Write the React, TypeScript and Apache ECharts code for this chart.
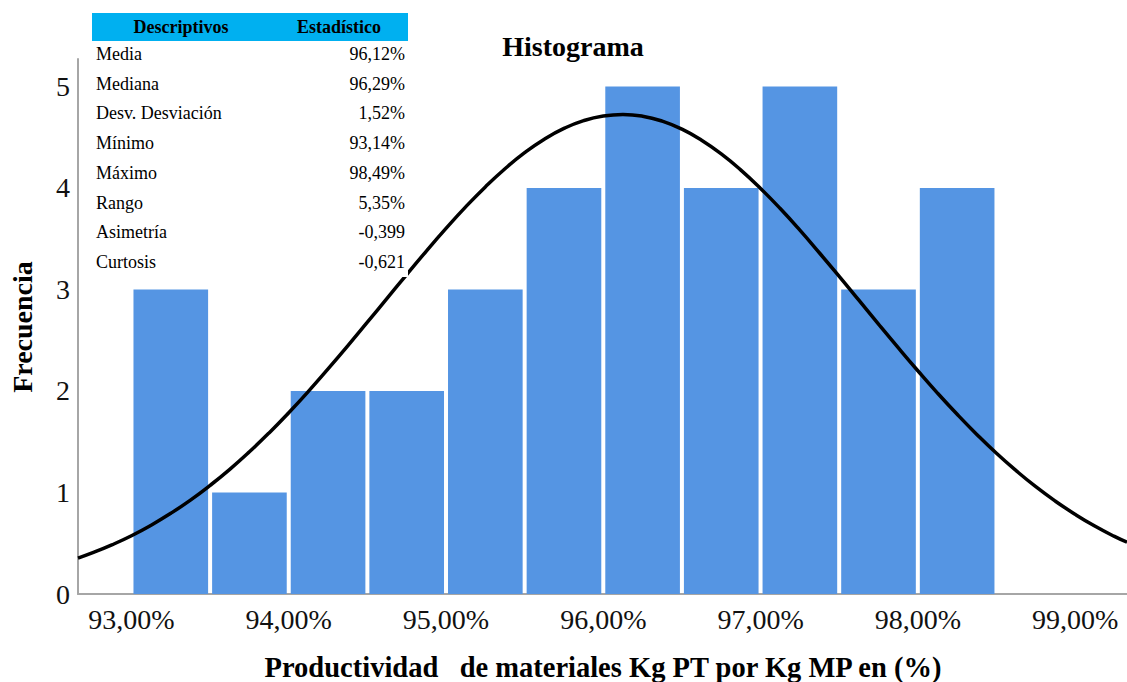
import React, { useEffect, useRef } from "react";
import * as echarts from "echarts";

// Histogram bins: [start, end] in % and frequency
const binStarts = [93.0, 93.5, 94.0, 94.5, 95.0, 95.5, 96.0, 96.5, 97.0, 97.5, 98.0];
const binEnds = [93.5, 94.0, 94.5, 95.0, 95.5, 96.0, 96.5, 97.0, 97.5, 98.0, 98.5];
const frequencies = [3, 1, 2, 2, 3, 4, 5, 4, 5, 3, 4];

// Normal curve (x in %, y in frequency units)
const curveX = [
  92.66, 92.75, 92.875, 93.0, 93.125, 93.25, 93.375, 93.5, 93.625, 93.75, 93.875,
  94.0, 94.125, 94.25, 94.375, 94.5, 94.625, 94.75, 94.875,
  95.0, 95.125, 95.25, 95.375, 95.5, 95.625, 95.75, 95.875,
  96.0, 96.125, 96.25, 96.375, 96.5, 96.625, 96.75, 96.875,
  97.0, 97.125, 97.25, 97.375, 97.5, 97.625, 97.75, 97.875,
  98.0, 98.125, 98.25, 98.375, 98.5, 98.625, 98.75, 98.875,
  99.0, 99.125, 99.25, 99.33,
];
const curveY = [
  0.354, 0.405, 0.484, 0.574, 0.678, 0.795, 0.925, 1.07, 1.228, 1.401, 1.587,
  1.786, 1.996, 2.217, 2.444, 2.677, 2.912, 3.147, 3.378,
  3.601, 3.813, 4.01, 4.189, 4.347, 4.48, 4.586, 4.663,
  4.709, 4.724, 4.707, 4.658, 4.579, 4.47, 4.335, 4.176,
  3.995, 3.797, 3.584, 3.359, 3.129, 2.894, 2.658, 2.426,
  2.199, 1.979, 1.77, 1.572, 1.386, 1.215, 1.057, 0.914,
  0.785, 0.669, 0.567, 0.51,
];

const xTicks = [93, 94, 95, 96, 97, 98, 99];

// Descriptive statistics table
const tableHeader = ["Descriptivos", "Estadístico"];
const tableLabels = ["Media", "Mediana", "Desv. Desviación", "Mínimo", "Máximo", "Rango", "Asimetría", "Curtosis"];
const tableValues = ["96,12%", "96,29%", "1,52%", "93,14%", "98,49%", "5,35%", "-0,399", "-0,621"];

const SERIF = "Liberation Serif, Times New Roman, serif";

export default function App() {
  const ref = useRef<HTMLDivElement>(null);

  useEffect(() => {
    if (!ref.current) return;
    const chart = echarts.init(ref.current, null, { renderer: "svg" });

    const barData = binStarts.map((s, i) => [s, binEnds[i], frequencies[i]]);
    const curveData = curveX.map((x, i) => [x, curveY[i]]);

    const txt = (text: string, x: number, y: number, size: number, bold: boolean, align: string, rotation = 0) => ({
      type: "text",
      z: 101,
      x,
      y,
      rotation,
      style: {
        text,
        fontFamily: SERIF,
        fontSize: size,
        fontWeight: bold ? "bold" : "normal",
        fill: "#000",
        align,
        verticalAlign: "middle",
      },
    });

    const tableGraphics: any[] = [
      { type: "rect", z: 100, shape: { x: 92, y: 41, width: 316, height: 236 }, style: { fill: "#ffffff" } },
      { type: "rect", z: 100, shape: { x: 92, y: 13, width: 316, height: 28 }, style: { fill: "#00B0F0" } },
      txt(tableHeader[0], 181, 27, 18, true, "center"),
      txt(tableHeader[1], 339, 27, 18, true, "center"),
    ];
    tableLabels.forEach((lab, i) => {
      const y = 54 + i * 29.7;
      tableGraphics.push(txt(lab, 96, y, 18, false, "left"));
      tableGraphics.push(txt(tableValues[i], 405, y, 18, false, "right"));
    });

    chart.setOption({
      animation: false,
      backgroundColor: "#ffffff",
      title: {
        text: "Histograma",
        left: 568,
        top: 27,
        textAlign: "center",
        textStyle: { fontFamily: SERIF, fontWeight: "bold", fontSize: 28, color: "#000" },
      },
      grid: { left: 78, right: 0, top: 59, bottom: 88, containLabel: false },
      xAxis: {
        type: "value",
        min: 92.66,
        max: 99.33,
        splitLine: { show: false },
        axisTick: { show: false },
        axisLine: { show: true, lineStyle: { color: "#a6a6a6", width: 2 } },
        axisLabel: {
          customValues: xTicks,
          formatter: (v: number) => v.toFixed(2).replace(".", ",") + "%",
          fontFamily: SERIF,
          fontSize: 28,
          color: "#111",
          margin: 11,
        },
      },
      yAxis: {
        type: "value",
        min: 0,
        max: 5.27,
        interval: 1,
        splitLine: { show: false },
        axisTick: { show: false },
        axisLine: { show: true, lineStyle: { color: "#a6a6a6", width: 2 } },
        axisLabel: {
          formatter: (v: number) => (Number.isInteger(v) ? String(v) : ""),
          fontFamily: SERIF,
          fontSize: 28,
          color: "#111",
          margin: 8,
        },
      },
      series: [
        {
          type: "custom",
          z: 1,
          data: barData,
          encode: { x: [0, 1], y: 2 },
          renderItem: (params: any, api: any) => {
            const p0 = api.coord([api.value(0), api.value(2)]);
            const p1 = api.coord([api.value(1), 0]);
            return {
              type: "rect",
              shape: { x: p0[0] + 2, y: p0[1], width: p1[0] - p0[0] - 4, height: p1[1] - p0[1] },
              style: { fill: "#5595e3" },
            };
          },
        },
        {
          type: "line",
          z: 5,
          data: curveData,
          smooth: true,
          showSymbol: false,
          symbol: "none",
          lineStyle: { color: "#000", width: 3.5 },
        },
      ],
      graphic: [
        ...tableGraphics,
        txt("Frecuencia", 22, 327, 28, true, "center", Math.PI / 2),
        txt("Productividad   de materiales Kg PT por Kg MP en (%)", 603, 667, 28.5, true, "center"),
      ],
    });

    return () => chart.dispose();
  }, []);

  return <div ref={ref} style={{ position: "fixed", left: 0, top: 0, width: 1127, height: 682 }} />;
}
